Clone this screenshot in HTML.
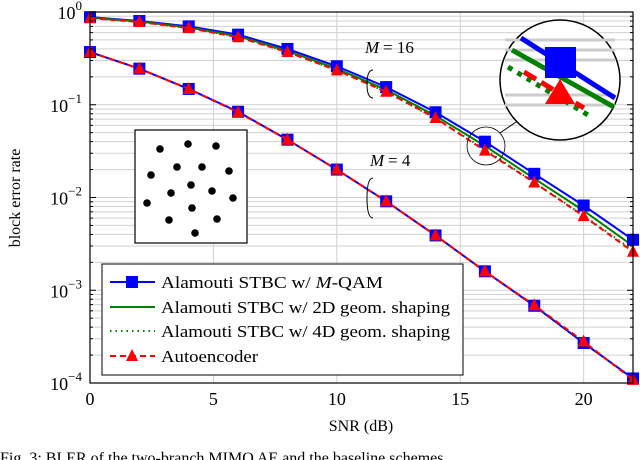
<!DOCTYPE html>
<html><head><meta charset="utf-8"><style>
body{margin:0;background:#fff;overflow:hidden;}
svg{display:block;font-family:"Liberation Serif",serif;}
</style></head><body>
<svg id="chart" width="640" height="460" viewBox="0 0 640 460">
<g id="grid"></g>
<g id="series"></g>
<rect x="90" y="12" width="543" height="371" fill="none" stroke="#000" stroke-width="1.2"/>
<g id="axes"></g>
<text x="20" y="198" font-size="16" text-anchor="middle" transform="rotate(-90 20 198)">block error rate</text>
<text x="361" y="431" font-size="16" text-anchor="middle">SNR (dB)</text>
<text x="0" y="463" font-size="16" fill="#000">Fig. 3:  BLER of the two-branch MIMO AE and the baseline schemes</text>
<g>
<rect x="135" y="130" width="112" height="113" fill="#fff" stroke="#000" stroke-width="1.2"/>
<g id="dots"></g>
</g>
<g>
<text x="365" y="53" font-size="17" font-style="italic">M</text><text x="383" y="53" font-size="17">= 16</text>
<path d="M373 70 q-6 0 -6 14 q0 14 6 14" fill="none" stroke="#000"/>
</g>
<g>
<text x="370" y="166" font-size="17" font-style="italic">M</text><text x="388" y="166" font-size="17">= 4</text>
<path d="M373 178 q-6 0 -6 20 q0 20 6 20" fill="none" stroke="#000"/>
</g>
<g id="zoom"></g>
<g>
<rect x="102" y="264" width="361" height="111" fill="#fff" stroke="#000" stroke-width="1"/>
<line x1="110" y1="282" x2="155" y2="282" stroke="#0000ff" stroke-width="2"/><rect x="126" y="276" width="12" height="12" fill="#0000ff"/>
<text x="161" y="288" font-size="17" textLength="222" lengthAdjust="spacingAndGlyphs">Alamouti STBC w/ <tspan font-style="italic">M</tspan>-QAM</text>
<line x1="110" y1="307" x2="155" y2="307" stroke="#008000" stroke-width="2"/>
<text x="161" y="313" font-size="17" textLength="289" lengthAdjust="spacingAndGlyphs">Alamouti STBC w/ 2D geom. shaping</text>
<line x1="110" y1="331" x2="155" y2="331" stroke="#008000" stroke-width="2" stroke-dasharray="1.5 4"/>
<text x="161" y="337" font-size="17" textLength="289" lengthAdjust="spacingAndGlyphs">Alamouti STBC w/ 4D geom. shaping</text>
<line x1="110" y1="356" x2="155" y2="356" stroke="#ff0000" stroke-width="2" stroke-dasharray="6 4"/><polygon points="132,349 126,361 138,361" fill="#ff0000"/>
<text x="161" y="362" font-size="17" textLength="97" lengthAdjust="spacingAndGlyphs">Autoencoder</text>
</g>
</svg>
<script>
const snr=[0,2,4,6,8,10,12,14,16,18,20,22];
const qam16=[0.88,0.8,0.7,0.57,0.4,0.26,0.155,0.083,0.04,0.018,0.0082,0.0035];
const geo2d16=[0.87,0.79,0.68,0.55,0.38,0.245,0.145,0.076,0.036,0.016,0.0072,0.003];
const geo4d16=[0.86,0.78,0.67,0.54,0.37,0.235,0.138,0.071,0.033,0.0145,0.0064,0.0027];
const ae16=[0.86,0.78,0.67,0.535,0.37,0.235,0.138,0.072,0.032,0.0145,0.0063,0.0026];
const qam4=[0.37,0.245,0.148,0.084,0.042,0.02,0.0091,0.0039,0.0016,0.00068,0.00027,0.000112];
const ae4=[0.37,0.245,0.148,0.083,0.042,0.02,0.0091,0.0039,0.0016,0.00069,0.00028,0.000108];
const xTicks=[0,5,10,15,20];
const yTicks=[0,-1,-2,-3,-4];
const NS="http://www.w3.org/2000/svg";
const X=v=>90+v*(543/22);
const Y=v=>12-Math.log10(v)*92.75;
function mk(t,a,p){const e=document.createElementNS(NS,t);for(const k in a)e.setAttribute(k,a[k]);p.appendChild(e);return e;}
const grid=document.getElementById('grid'),axes=document.getElementById('axes'),ser=document.getElementById('series');
for(let d=0;d>-4;d--){for(let m=1;m<10;m++){const y=Y(m*Math.pow(10,d-1));
const l=mk('line',{x1:90,x2:633,y1:y,y2:y,stroke:'#d0d0d0','stroke-width':1},grid);


mk('line',{x1:90,x2:m==1?96:93,y1:y,y2:y,stroke:'#000'},axes);mk('line',{x1:633,x2:m==1?627:630,y1:y,y2:y,stroke:'#000'},axes);}}
xTicks.forEach(v=>{const l=mk('line',{x1:X(v),x2:X(v),y1:12,y2:383,stroke:'#d0d0d0'},grid);


const t=mk('text',{x:X(v),y:405,'font-size':18,'text-anchor':'middle'},axes);t.textContent=v;

});
yTicks.forEach(v=>{const y=Y(Math.pow(10,v));const t=mk('text',{x:82,y:y+7,'font-size':18,'text-anchor':'end'},axes);
t.textContent='10';const s=mk('tspan',{dy:-9,'font-size':13},t);s.textContent=v==0?'0':'\u2212'+(-v);

});
function line(vals,color,dash,name){const pts=snr.map((s,i)=>X(s)+','+Y(vals[i])).join(' ');
const p=mk('polyline',{points:pts,fill:'none',stroke:color,'stroke-width':2,'stroke-dasharray':dash||'none'},ser);

}
function squares(vals,name){snr.forEach((s,i)=>{const r=mk('rect',{x:X(s)-6,y:Y(vals[i])-6,width:12,height:12,fill:'#0000ff'},ser);

});}
function tris(vals,name){snr.forEach((s,i)=>{const x=X(s),y=Y(vals[i]);const t=mk('polygon',{points:`${x},${y-7} ${x-6},${y+5} ${x+6},${y+5}`,fill:'#ff0000'},ser);

});}
line(qam16,'#0000ff',null,'line-qam-m16');line(geo2d16,'#008000',null,'line-2d-m16');line(geo4d16,'#008000','1.5 4','line-4d-m16');
line(qam4,'#0000ff',null,'line-qam-m4');
squares(qam16,'marker-qam-m16');squares(qam4,'marker-qam-m4');
line(ae16,'#ff0000','6 4','line-ae-m16');line(ae4,'#ff0000','6 4','line-ae-m4');
tris(ae16,'marker-ae-m16');tris(ae4,'marker-ae-m4');
const dotsX=[160,188,216,151,177,202,229,191,171,212,147,233,192,169,217,195];
const dotsY=[149,144,146,175,167,167,171,185,193,191,203,198,208,220,219,233];
const dg=document.getElementById('dots');
dotsX.forEach((x,i)=>{const c=mk('circle',{cx:x,cy:dotsY[i],r:3.8,fill:'#000'},dg);

});
const z=document.getElementById('zoom');
mk('circle',{cx:486,cy:146,r:19,fill:'none',stroke:'#000','stroke-width':0.8},z);
mk('line',{x1:500,y1:133,x2:516,y2:122,stroke:'#000'},z);
mk('circle',{cx:560,cy:80,r:60,fill:'#fff',stroke:'#000','stroke-width':1.5},z);
[40,50,60,95,105].forEach(y=>mk('line',{x1:505,x2:615,y1:y,y2:y,stroke:'#ccc','stroke-width':3},z));
mk('line',{x1:521,y1:38,x2:615,y2:98,stroke:'#0000ff','stroke-width':5},z);
mk('line',{x1:512,y1:50,x2:614,y2:107,stroke:'#008000','stroke-width':5},z);
mk('line',{x1:508,y1:67,x2:588,y2:115,stroke:'#008000','stroke-width':5,'stroke-dasharray':'5 6'},z);
mk('line',{x1:524,y1:72,x2:584,y2:108,stroke:'#ff0000','stroke-width':5,'stroke-dasharray':'14 6'},z);
mk('rect',{x:545,y:47,width:31,height:31,fill:'#0000ff'},z);
mk('polygon',{points:'560,79 545,104 575,104',fill:'#ff0000'},z);
</script>
</body></html>
